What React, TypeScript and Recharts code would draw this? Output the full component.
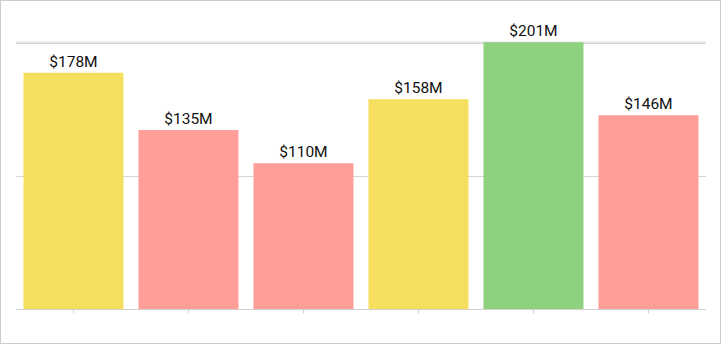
import { BarChart, Bar, XAxis, YAxis, CartesianGrid, Cell, LabelList } from 'recharts';

const categories = ['A', 'B', 'C', 'D', 'E', 'F'];
const revenue = [178, 135, 110, 158, 201, 146];
const barColors = ['#f6df5f', '#ff9e99', '#ff9e99', '#f6df5f', '#8ed17e', '#ff9e99'];
const yTicks = [0, 100, 200];

const data = categories.map((name, i) => ({ name, value: revenue[i] }));

const formatMoney = (value: number): string => `$${value}M`;

export default function App() {
  return (
    <div
      style={{
        position: 'absolute',
        left: 0,
        top: 0,
        width: 721,
        height: 344,
        boxSizing: 'border-box',
        border: '1px solid #cccccc',
        background: '#fff',
        fontFamily: 'Roboto, sans-serif',
      }}
    >
      <BarChart
        width={719}
        height={342}
        data={data}
        margin={{ top: 41.17, right: 14, left: 15, bottom: 3.5 }}
        barCategoryGap="6.5%"
      >
        <CartesianGrid vertical={false} stroke="#d6d6d6" />
        <XAxis
          dataKey="name"
          stroke="#d0d0d0"
          tickLine={{ stroke: '#d0d0d0' }}
          tickSize={4}
          tickFormatter={() => ''}
          height={30}
        />
        <YAxis hide domain={[0, 'dataMax']} ticks={yTicks} />
        <Bar dataKey="value" isAnimationActive={false}>
          {data.map((entry, index) => (
            <Cell key={`cell-${index}`} fill={barColors[index]} />
          ))}
          <LabelList
            dataKey="value"
            position="top"
            offset={6}
            formatter={(v: any) => formatMoney(v)}
            fill="#111"
            fontSize={15.5}
            fontFamily="Roboto, sans-serif"
          />
        </Bar>
      </BarChart>
    </div>
  );
}
